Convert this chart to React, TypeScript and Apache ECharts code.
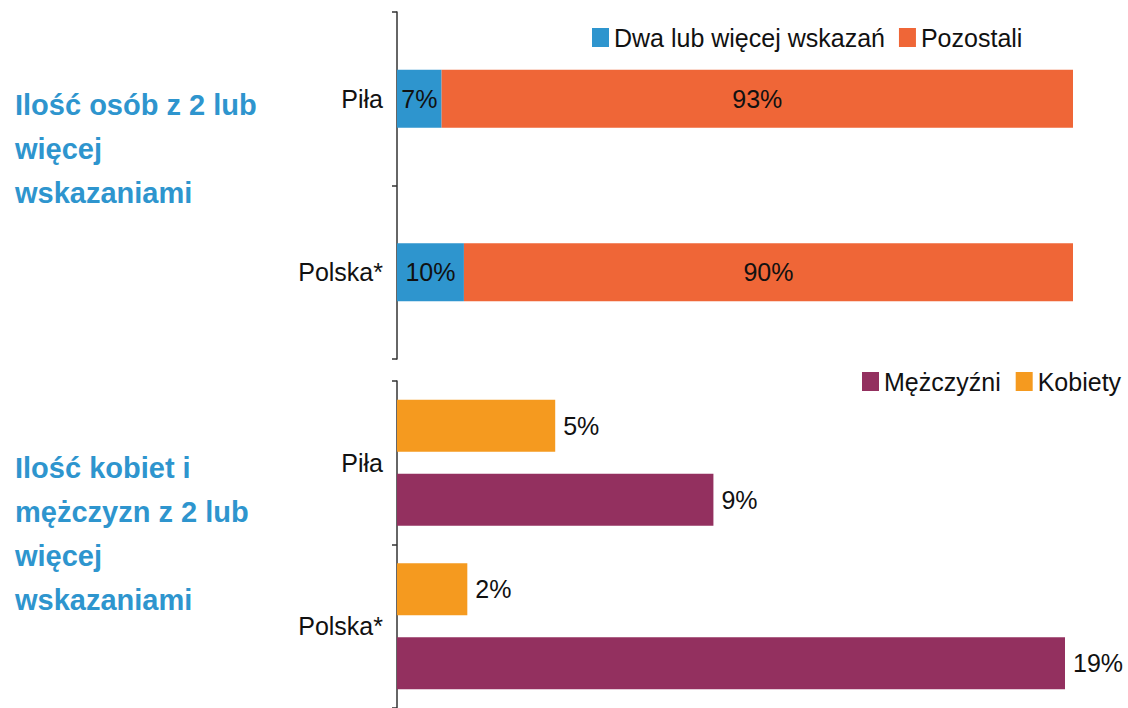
import React, { useEffect, useRef } from "react";
import * as echarts from "echarts";

const topCategories = ["Piła", "Polska*"];
const topMultiple = [6.6, 9.9];
const topRest = [93.4, 90.1];
const topNames = ["Dwa lub więcej wskazań", "Pozostali"];

const bottomCategories = ["Piła", "Polska*"];
const women = [4.5, 2];
const men = [9, 19];
const bottomNames = ["Mężczyźni", "Kobiety"];

const titleTop = "Ilość osób z 2 lub\nwięcej\nwskazaniami";
const titleBottom = "Ilość kobiet i\nmężczyzn z 2 lub\nwięcej\nwskazaniami";

const FONT = "'Liberation Sans', Arial, sans-serif";
const FS = 25;
const pct = (p: any) => Math.round(p.value) + "%";

export default function App() {
  const ref = useRef<HTMLDivElement>(null);
  useEffect(() => {
    document.body.style.margin = "0";
    const chart = echarts.init(ref.current!, null, { renderer: "svg" });
    const axisLineStyle = { color: "#333", width: 1.5 };
    const catAxisCommon = {
      type: "category" as const,
      inverse: true,
      axisLine: { show: true, lineStyle: axisLineStyle },
      axisTick: { show: true, length: 5, lineStyle: axisLineStyle },
      axisLabel: { color: "#111", fontSize: FS, fontFamily: FONT, margin: 14 },
    };
    const labelStyle = { color: "#111", fontSize: FS, fontFamily: FONT };
    const titleStyle = { color: "#2E95CE", fontSize: 29, fontWeight: "bold", fontFamily: FONT, lineHeight: 44 };
    chart.setOption({
      animation: false,
      backgroundColor: "#fff",
      textStyle: { fontFamily: FONT },
      title: [
        { text: titleTop, left: 10, top: 78, textStyle: titleStyle },
        { text: titleBottom, left: 10, top: 441, textStyle: titleStyle },
      ],
      legend: [
        {
          data: topNames,
          left: 587,
          top: 20,
          icon: "rect",
          itemWidth: 17,
          itemHeight: 19,
          itemGap: 14,
          textStyle: { fontSize: FS, color: "#111", fontFamily: FONT },
        },
        {
          data: bottomNames,
          left: 857,
          top: 364,
          icon: "rect",
          itemWidth: 17,
          itemHeight: 19,
          itemGap: 15,
          textStyle: { fontSize: FS, color: "#111", fontFamily: FONT },
        },
      ],
      grid: [
        { left: 397, top: 12, width: 676, height: 347 },
        { left: 397, top: 381, width: 668, height: 330 },
      ],
      xAxis: [
        { type: "value", gridIndex: 0, min: 0, max: 100, show: false },
        { type: "value", gridIndex: 1, min: 0, max: 19, show: false },
      ],
      yAxis: [
        { ...catAxisCommon, gridIndex: 0, data: topCategories },
        { ...catAxisCommon, gridIndex: 1, data: bottomCategories },
      ],
      series: [
        {
          name: topNames[0],
          type: "bar",
          stack: "top",
          xAxisIndex: 0,
          yAxisIndex: 0,
          data: topMultiple,
          barWidth: 58,
          itemStyle: { color: "#2E95CE" },
          label: { show: true, position: "inside", formatter: pct, ...labelStyle },
        },
        {
          name: topNames[1],
          type: "bar",
          stack: "top",
          xAxisIndex: 0,
          yAxisIndex: 0,
          data: topRest,
          barWidth: 58,
          itemStyle: { color: "#EF6637" },
          label: { show: true, position: "inside", formatter: pct, ...labelStyle },
        },
        {
          name: bottomNames[1],
          type: "bar",
          xAxisIndex: 1,
          yAxisIndex: 1,
          data: women,
          barWidth: 52,
          barGap: "42%",
          itemStyle: { color: "#F59A1F" },
          label: { show: true, position: "right", distance: 8, formatter: pct, ...labelStyle },
        },
        {
          name: bottomNames[0],
          type: "bar",
          xAxisIndex: 1,
          yAxisIndex: 1,
          data: men,
          barWidth: 52,
          barGap: "42%",
          itemStyle: { color: "#93305F" },
          label: { show: true, position: "right", distance: 8, formatter: pct, ...labelStyle },
        },
      ],
    });
    return () => chart.dispose();
  }, []);
  return <div ref={ref} style={{ width: 1128, height: 708 }} />;
}
